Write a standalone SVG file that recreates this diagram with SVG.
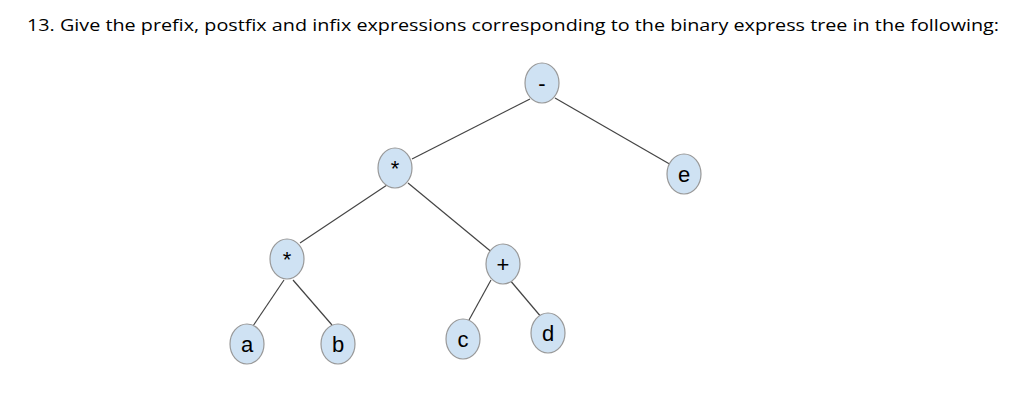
<svg xmlns="http://www.w3.org/2000/svg" width="1034" height="418" viewBox="0 0 1034 418">
<style>
.n{fill:#cfe2f3;stroke:#999;stroke-width:1.2}
.t{font-family:"Liberation Sans",Arial,sans-serif;font-size:22px;text-anchor:middle;fill:#000}
.e{stroke:#444;stroke-width:1.2}
</style>
<rect width="1034" height="418" fill="#fff"/>
<text x="27" y="31" font-family="'Open Sans','Liberation Sans',sans-serif" font-size="17" textLength="972" lengthAdjust="spacingAndGlyphs">13.  Give the prefix, postfix and infix expressions corresponding to the binary express tree in the following:</text>
<g id="edges">
<line class="e" x1="530" y1="99" x2="412" y2="159"/>
<line class="e" x1="555" y1="98" x2="673" y2="166"/>
<line class="e" x1="390" y1="183" x2="300" y2="243"/>
<line class="e" x1="408" y1="183" x2="494" y2="254"/>
<line class="e" x1="284" y1="280" x2="253" y2="326"/>
<line class="e" x1="293" y1="280" x2="332" y2="325"/>
<line class="e" x1="491" y1="280" x2="469" y2="320"/>
<line class="e" x1="509" y1="279" x2="542" y2="318"/>
</g>
<g id="minus"><ellipse class="n" cx="542" cy="83" rx="17" ry="20"/><text class="t" x="542" y="91">-</text></g>
<g id="mul1"><ellipse class="n" cx="395" cy="168" rx="17" ry="20"/><text class="t" x="395" y="176">*</text></g>
<g id="e"><ellipse class="n" cx="684" cy="174" rx="17" ry="20"/><text class="t" x="684" y="182">e</text></g>
<g id="mul2"><ellipse class="n" cx="287" cy="259" rx="17" ry="20"/><text class="t" x="287" y="267">*</text></g>
<g id="plus"><ellipse class="n" cx="503" cy="264" rx="17" ry="20"/><text class="t" x="503" y="272">+</text></g>
<g id="a"><ellipse class="n" cx="247" cy="344" rx="17" ry="20"/><text class="t" x="247" y="352">a</text></g>
<g id="b"><ellipse class="n" cx="338" cy="344" rx="17" ry="20"/><text class="t" x="338" y="352">b</text></g>
<g id="c"><ellipse class="n" cx="463" cy="339" rx="17" ry="20"/><text class="t" x="463" y="347">c</text></g>
<g id="d"><ellipse class="n" cx="548" cy="333" rx="17" ry="20"/><text class="t" x="548" y="341">d</text></g>
</svg>
